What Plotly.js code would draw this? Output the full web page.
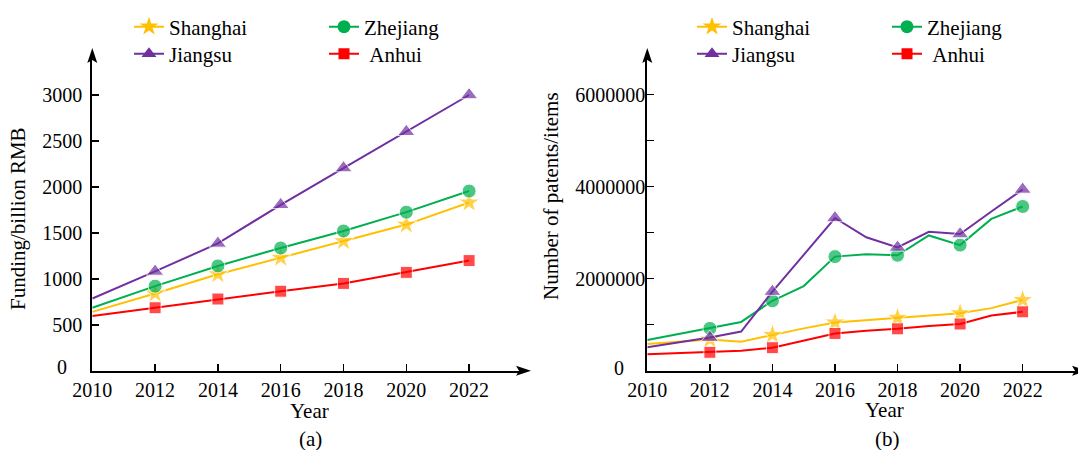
<!DOCTYPE html>
<html><head><meta charset="utf-8">
<script src="https://cdn.plot.ly/plotly-3.0.1.min.js"></script>
<style>html,body{margin:0;padding:0;background:#fff}#chart{width:1078px;height:450px}</style>
</head><body><div id="chart"></div>
<script>
// ---------- data ----------
const seriesNames = ['Shanghai', 'Zhejiang', 'Jiangsu', 'Anhui'];
const legendLabels = ['Shanghai', 'Zhejiang', 'Jiangsu', '\u00a0Anhui'];

const fundingYears = [2010, 2012, 2014, 2016, 2018, 2020, 2022];
const fundingShanghai = [640, 840, 1050, 1230, 1410, 1590, 1830];
const fundingZhejiang = [685, 920, 1140, 1335, 1520, 1725, 1955];
const fundingJiangsu  = [785, 1080, 1385, 1805, 2205, 2600, 3000];
const fundingAnhui    = [595, 685, 780, 865, 950, 1070, 1198];

const patentYears = [2010, 2011, 2012, 2013, 2014, 2015, 2016, 2017, 2018, 2019, 2020, 2021, 2022];
const patentShanghai = [580000, 630000, 680000, 630000, 780000, 920000, 1050000, 1100000, 1150000, 1190000, 1250000, 1360000, 1540000];
const patentZhejiang = [667000, 800000, 920000, 1060000, 1520000, 1840000, 2480000, 2530000, 2510000, 2940000, 2730000, 3300000, 3570000];
const patentJiangsu  = [510000, 620000, 720000, 850000, 1720000, 2520000, 3320000, 2900000, 2680000, 3020000, 2970000, 3460000, 3940000];
const patentAnhui    = [356000, 380000, 400000, 435000, 500000, 650000, 810000, 870000, 910000, 970000, 1015000, 1200000, 1280000];

const xTickVals = [2010, 2012, 2014, 2016, 2018, 2020, 2022];
const xTickText = ['2010', '2012', '2014', '2016', '2018', '2020', '2022'];
const fundTickVals = [500, 1000, 1500, 2000, 2500, 3000];
const fundTickText = ['500', '1000', '1500', '2000', '2500', '3000'];
const patTickVals = [1000000, 2000000, 3000000, 4000000, 5000000, 6000000];
const patTickText = ['', '2000000', '', '4000000', '', '6000000'];
const originLabel = '0';

const xTitle = 'Year';
const fundYTitle = 'Funding/billion RMB';
const patYTitle = 'Number of patents/items';
const panelLabels = ['(a)', '(b)'];

// ---------- style ----------
const FONT = 'Liberation Serif, Times New Roman, serif';
const colors  = {Shanghai: '#FFC000', Zhejiang: '#00B050', Jiangsu: '#7030A0', Anhui: '#FF0000'};
const symbols = {Shanghai: 'star', Zhejiang: 'circle', Jiangsu: 'triangle-up', Anhui: 'square'};
const msize   = {Shanghai: 16, Zhejiang: 14, Jiangsu: 15, Anhui: 12};
const lsize   = {Shanghai: 14, Zhejiang: 13, Jiangsu: 13, Anhui: 11};

const W = 1078, H = 450;
const px = x => x / W;
const py = y => 1 - y / H;

const fundData = {Shanghai: fundingShanghai, Zhejiang: fundingZhejiang, Jiangsu: fundingJiangsu, Anhui: fundingAnhui};
const patData  = {Shanghai: patentShanghai, Zhejiang: patentZhejiang, Jiangsu: patentJiangsu, Anhui: patentAnhui};

// legend slots (pixel positions of legend box left / row centre)
const legendPos = [
  {Shanghai: [129, 27], Zhejiang: [324, 27], Jiangsu: [129, 54], Anhui: [324, 54]},
  {Shanghai: [692, 27], Zhejiang: [887, 27], Jiangsu: [692, 54], Anhui: [887, 54]}
];

const traces = [];
const layoutLegends = {};
let li = 0;
[[fundingYears, fundData, 'x', 'y'], [patentYears, patData, 'x2', 'y2']].forEach((p, pi) => {
  const [yrs, data, xa, ya] = p;
  seriesNames.forEach((name, si) => {
    // data trace
    traces.push({
      type: 'scatter', mode: 'lines+markers',
      x: yrs, y: data[name], xaxis: xa, yaxis: ya,
      name: legendLabels[si], showlegend: false,
      line: {color: colors[name], width: 2},
      marker: {color: colors[name], symbol: symbols[name],
               size: yrs.map(yr => (yr % 2 === 0 && yr > 2010) ? msize[name] : 0)},
      hoverinfo: 'x+y'
    });
    // legend entry
    li += 1;
    const lname = li === 1 ? 'legend' : 'legend' + li;
    traces.push({
      type: 'scatter', mode: 'lines+markers',
      x: [null], y: [null], xaxis: xa, yaxis: ya,
      name: legendLabels[si], legend: lname, showlegend: true,
      line: {color: colors[name], width: 2},
      marker: {color: colors[name], symbol: symbols[name], size: lsize[name]},
      hoverinfo: 'skip'
    });
    const pos = legendPos[pi][name];
    layoutLegends[lname] = {
      x: px(pos[0]), y: py(pos[1]), xanchor: 'left', yanchor: 'middle',
      orientation: 'v', bgcolor: 'rgba(0,0,0,0)', borderwidth: 0,
      font: {family: FONT, size: 21, color: '#000'}
    };
  });
});

// geometry
const y0px = 370.7, yTopPx = 55;
const leftX0 = 92.3, leftX1 = 524, rightX0 = 647.3, rightX1 = 1078;
const pxPerYearL = 31.4, pxPerYearR = 31.28;
const pxPerUnitL = 0.0919, pxPerUnitR = 0.000046;

function xAxis(d0, d1, range) {
  return {domain: [px(d0), px(d1)], range: range, showline: true, linewidth: 2, linecolor: '#000',
    ticks: 'inside', ticklen: 7, tickwidth: 1.5, tickcolor: '#000',
    tickvals: xTickVals, ticktext: xTickText, showgrid: false, zeroline: false,
    tickfont: {family: FONT, size: 20, color: '#000'}, fixedrange: true};
}
function yAxis(anchor, range, tv, tt, standoff) {
  return {domain: [py(y0px), py(yTopPx)], range: range, anchor: anchor, showline: true, linewidth: 2, linecolor: '#000',
    ticks: 'inside', ticklen: 7, tickwidth: 1.5, tickcolor: '#000',
    tickvals: tv, ticktext: tt, showgrid: false, zeroline: false, ticklabelstandoff: standoff,
    tickfont: {family: FONT, size: 20, color: '#000'}, fixedrange: true};
}

function arrowUp(x, y) { // tip pixel
  return {type: 'path', xref: 'paper', yref: 'paper', fillcolor: '#000', line: {width: 0},
    path: `M${px(x)},${py(y)} L${px(x - 5)},${py(y + 15)} L${px(x)},${py(y + 12)} L${px(x + 5)},${py(y + 15)} Z`};
}
function arrowRight(x, y) {
  return {type: 'path', xref: 'paper', yref: 'paper', fillcolor: '#000', line: {width: 0},
    path: `M${px(x)},${py(y)} L${px(x - 15)},${py(y - 5)} L${px(x - 12)},${py(y)} L${px(x - 15)},${py(y + 5)} Z`};
}

function ann(text, x, y, extra, size) {
  return Object.assign({text: text, xref: 'paper', yref: 'paper', x: px(x), y: py(y),
    xanchor: 'center', yanchor: 'middle', showarrow: false,
    font: {family: FONT, size: size || 21, color: '#000'}}, extra || {});
}

const layout = Object.assign({
  width: W, height: H, margin: {l: 0, r: 0, t: 0, b: 0},
  paper_bgcolor: '#fff', plot_bgcolor: 'rgba(0,0,0,0)',
  showlegend: true,
  xaxis: xAxis(leftX0, leftX1, [2010, 2010 + (leftX1 - leftX0) / pxPerYearL]),
  yaxis: yAxis('x', [0, (y0px - yTopPx) / pxPerUnitL], fundTickVals, fundTickText, 4),
  xaxis2: xAxis(rightX0, rightX1, [2010, 2010 + (rightX1 - rightX0) / pxPerYearR]),
  yaxis2: yAxis('x2', [0, (y0px - yTopPx) / pxPerUnitR], patTickVals, patTickText, -4),
  shapes: [arrowUp(leftX0, 48), arrowRight(531, y0px), arrowUp(rightX0, 48), arrowRight(1087, y0px)],
  annotations: [
    ann(originLabel, 62, 367, null, 20), ann(originLabel, 619, 368, null, 20),
    ann(xTitle, 309, 411), ann(xTitle, 884, 410),
    ann(panelLabels[0], 310, 452, {yanchor: 'bottom', borderpad: 0}), ann(panelLabels[1], 887, 452, {yanchor: 'bottom', borderpad: 0}),
    ann(fundYTitle, 18, 219, {textangle: -90}),
    ann(patYTitle, 551, 196, {textangle: -90})
  ]
}, layoutLegends);

Plotly.newPlot('chart', traces, layout, {staticPlot: true, displayModeBar: false});
</script>
</body></html>
